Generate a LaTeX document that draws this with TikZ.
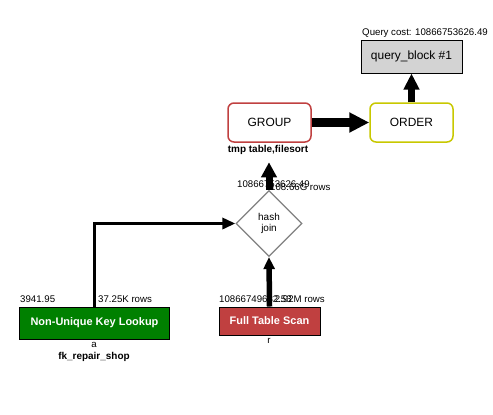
\documentclass[tikz,border=0pt]{standalone}
\usepackage{fontspec}
\setmainfont{Liberation Sans}
\usetikzlibrary{shapes.geometric,arrows.meta}
\definecolor{boxgray}{RGB}{211,211,211}
\definecolor{grpred}{RGB}{192,64,64}
\definecolor{ordyel}{RGB}{200,200,0}
\definecolor{lkgreen}{RGB}{0,128,0}
\definecolor{dmgray}{RGB}{128,128,128}
\tikzset{
  lbl/.style={font=\fontsize{9.7}{11}\selectfont, inner sep=0pt},
  blbl/.style={font=\fontsize{10}{12}\selectfont\bfseries, inner sep=0pt},
  opbox/.style={draw, rounded corners=6bp, line width=1.5bp, fill=white, minimum width=83bp, minimum height=39bp, inner sep=0pt, font=\fontsize{12}{14}\selectfont},
  tblbox/.style={draw=black, line width=1bp, inner sep=0pt, text=white, font=\fontsize{11}{13}\selectfont\bfseries},
  conn/.style={draw=black, line join=miter},
}
\begin{document}
\begin{tikzpicture}[x=1bp,y=-1bp]
\useasboundingbox (0,0) rectangle (493,414);
% query block
\node[draw=black, line width=1bp, fill=boxgray, minimum width=101bp, minimum height=33bp, inner sep=0pt, font=\fontsize{12}{14}\selectfont] (qb) at (411.5,56.5) {query\_block \#1};
\node[lbl, anchor=base] (cost) at (425,35) {Query cost: 10866753626.49};
% operations
\node[opbox, draw=ordyel] (order) at (411.5,122.5) {ORDER};
\node[opbox, draw=grpred] (group) at (269.5,122.5) {GROUP};
\node[blbl, anchor=base] (tmp) at (268,152) {tmp table,filesort};
% hash join
\node[draw=dmgray, line width=1.3bp, diamond, minimum width=66bp, minimum height=66bp, inner sep=0pt, align=center, font=\fontsize{10}{11}\selectfont] (hj) at (269,223.5) {hash\\join};
% tables
\node[tblbox, fill=lkgreen, minimum width=149bp, minimum height=32bp] (nukl) at (94.5,323) {Non-Unique Key Lookup};
\node[tblbox, fill=grpred, minimum width=101bp, minimum height=28bp] (fts) at (269.5,321) {Full Table Scan};
\node[lbl, anchor=base] (ta) at (94,347) {a};
\node[blbl, anchor=base] (tk) at (94,359) {fk\_repair\_shop};
\node[lbl, anchor=base] (tr) at (269,343) {r};
% cost / rows labels
\node[lbl, anchor=base west] (c1) at (20,302) {3941.95};
\node[lbl, anchor=base west] (r1) at (98,302) {37.25K rows};
\node[lbl, anchor=base west] (c2) at (219,302) {10866749682.53};
\node[lbl, anchor=base east] (r2) at (325,302) {2.92M rows};
\node[lbl, anchor=base west] (c3) at (237,187) {10866753626.49};
\node[lbl, anchor=base west] (r3) at (270,190) {108.66G rows};
% connectors
\draw[conn, line width=3.5bp, -{Triangle[length=13bp,width=11bp]}] (nukl.north) |- (hj.west);
\draw[conn, line width=5.5bp, -{Triangle[length=12bp,width=11bp]}] (fts.north) -- (hj.south);
\draw[conn, line width=7bp, -{Triangle[length=15bp,width=15bp]}] (hj.north) -- ([yshift=-8bp]tmp.south -| hj.north);
\draw[conn, line width=9bp, -{Triangle[length=20bp,width=19bp]}] (group.east) -- (order.west);
\draw[conn, line width=7bp, -{Triangle[length=16bp,width=15bp]}] (order.north) -- (qb.south);
\end{tikzpicture}
\end{document}
